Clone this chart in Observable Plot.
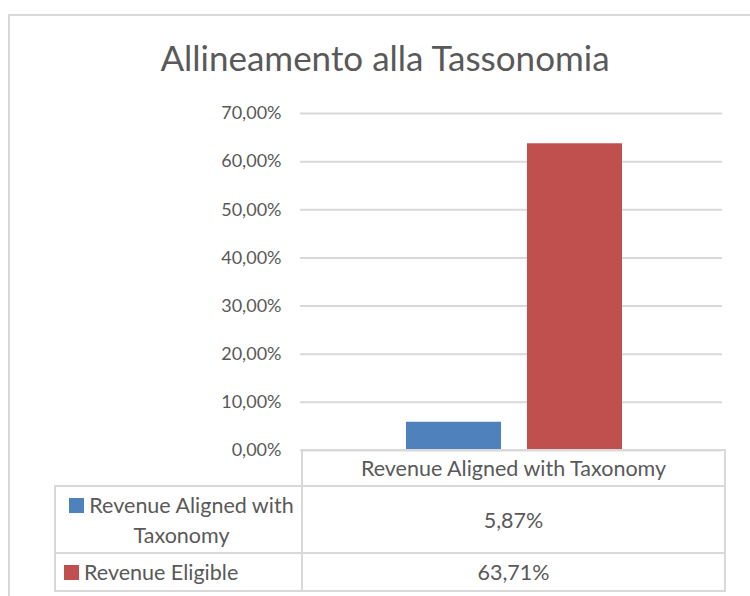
<!DOCTYPE html>
<html><head><meta charset="utf-8">
<script src="https://cdn.jsdelivr.net/npm/d3@7"></script>
<script src="https://cdn.jsdelivr.net/npm/@observablehq/plot@0.6"></script>
<style>
body{margin:0;background:#fff;font-family:Lato,"Open Sans",sans-serif;color:#595959;}
#wrap{position:relative;width:750px;height:596px;overflow:hidden;background:#fff;}
#frame{position:absolute;left:8px;top:14px;width:800px;height:700px;border:2px solid #d9d9d9;box-sizing:border-box;}
#title{position:absolute;left:0;width:770px;top:34px;text-align:center;font-size:35px;line-height:46px;color:#595959;}
#plot{position:absolute;left:0;top:0;}
#plot svg text{font-size:18px;}
#tbl{position:absolute;left:54px;top:449px;border-collapse:collapse;font-size:21.5px;color:#595959;}
#tbl td{border:2px solid #d9d9d9;padding:0;text-align:center;}
#tbl td.empty{border:none;}
.sw{display:inline-block;width:15px;height:15px;margin-right:5px;vertical-align:0px;}
</style></head>
<body>
<div id="wrap">
  <div id="frame"></div>
  <div id="plot"></div>
  <div id="title"></div>
  <table id="tbl"></table>
</div>
<script>
const chartTitle = "Allineamento alla Tassonomia";
const category = "Revenue Aligned with Taxonomy";
const series = ["Revenue Aligned with Taxonomy", "Revenue Eligible"];
const values = [0.0587, 0.6371];
const colors = ["#4f81bd", "#c0504d"];
const yTicks = [0, 0.1, 0.2, 0.3, 0.4, 0.5, 0.6, 0.7];

const fmt = d => (d * 100).toFixed(2).replace(".", ",") + "%";
const data = series.map((s, i) => ({series: s, value: values[i]}));

document.getElementById("title").textContent = chartTitle;

const chart = Plot.plot({
  width: 750, height: 596,
  marginLeft: 300, marginRight: 28, marginTop: 113, marginBottom: 146,
  style: {fontFamily: "Lato, sans-serif", fontSize: "18px", color: "#595959", background: "transparent", overflow: "visible"},
  x: {domain: series, paddingInner: 0.215, paddingOuter: 0.851, align: 0.515, axis: null},
  y: {domain: [0, 0.7], label: null},
  color: {domain: series, range: colors},
  marks: [
    Plot.gridY(yTicks, {stroke: "#d9d9d9", strokeOpacity: 1, strokeWidth: 2}),
    Plot.barY(data, {x: "series", y: "value", fill: "series"}),
    Plot.axisY(yTicks, {tickSize: 0, tickPadding: 19, tickFormat: fmt, fill: "#595959", fontSize: 18, label: null})
  ]
});
document.getElementById("plot").appendChild(chart);

// data table
const tbl = document.getElementById("tbl");
const head = tbl.insertRow();
const e = head.insertCell(); e.className = "empty"; e.style.width = "246px"; e.style.height = "35px";
const h = head.insertCell(); h.textContent = category; h.style.width = "421px";
series.forEach((s, i) => {
  const r = tbl.insertRow();
  const c1 = r.insertCell();
  c1.innerHTML = `<span class="sw" style="background:${colors[i]}"></span>` + s;
  c1.style.lineHeight = "30px";
  c1.style.height = i === 0 ? "65px" : "36px";
  c1.style.padding = "0 2px 0 8px";
  if (i === 1) c1.style.textAlign = "left";
  const c2 = r.insertCell();
  c2.textContent = fmt(values[i]);
});
</script>
</body></html>
